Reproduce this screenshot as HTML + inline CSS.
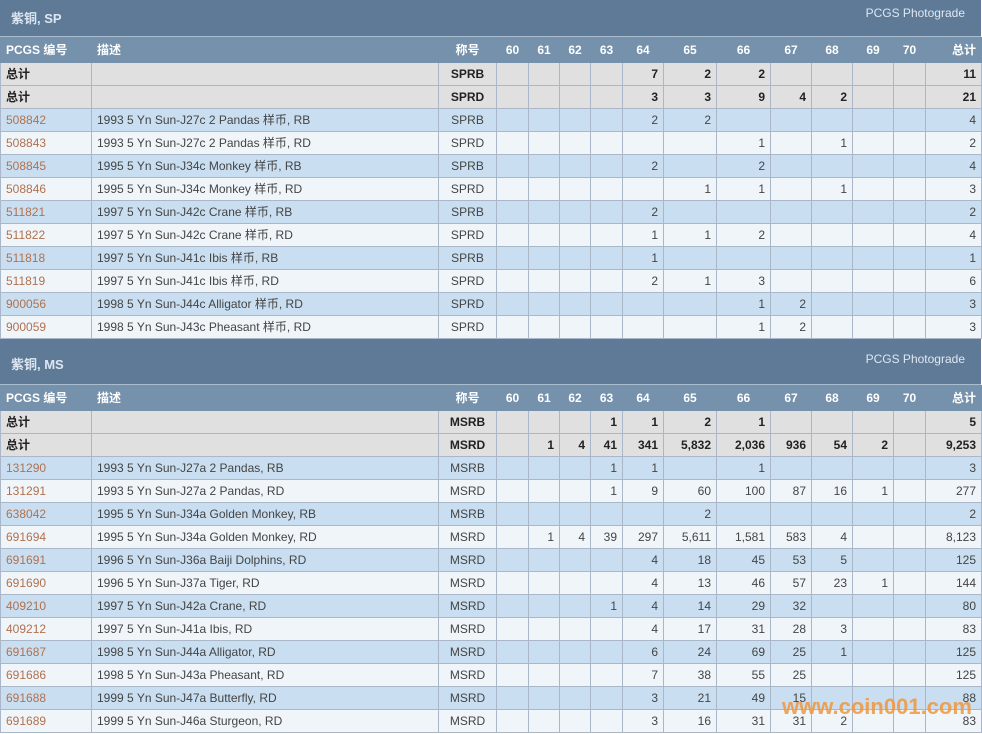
<!DOCTYPE html>
<html><head><meta charset="utf-8"><style>
body{margin:0;background:#fff;width:982px;height:734px;overflow:hidden;font-family:"Liberation Sans","Noto Sans CJK SC",sans-serif;font-size:12px;color:#444}
.t{height:37px;background:#5f7a96;color:#e8eef5;position:relative;box-sizing:border-box;border-bottom:1px solid #a9bdd0;width:981px}
.t b{position:absolute;left:11px;top:8px;font-size:13px;color:#dde7f2}
.t span{position:absolute;right:16px;top:6px;font-size:12px;color:#dde7f2}
table{border-collapse:collapse;table-layout:fixed;width:981px}
td{height:23px;border:1px solid #a9b7c8;padding:0 5px;text-align:right;white-space:nowrap;overflow:hidden;box-sizing:border-box;line-height:14px}
td:nth-child(1),td:nth-child(2){text-align:left}
td:nth-child(3){text-align:center}
tr.h td{background:#7591ab;color:#fff;font-weight:bold;height:25px;border-color:#7591ab}
tr.h td:nth-child(3),tr.h td:nth-child(n+4){text-align:center}
tr.h td:last-child{text-align:right}
tr.s td{background:#e0e0e0;font-weight:bold;color:#222}
tr.b td{background:#c9dff1}
tr.w td{background:#f0f5fa}
td a{color:#b0714e;text-decoration:none}
.wm{position:absolute;left:782px;top:694px;font:bold 22px "Liberation Sans",sans-serif;color:rgba(240,150,60,0.85)}
</style></head><body>
<div class="t"><b>紫铜, SP</b><span>PCGS Photograde</span></div>
<table>
<colgroup><col style="width:91px"><col style="width:347px"><col style="width:58px"><col style="width:32px"><col style="width:31px"><col style="width:31px"><col style="width:32px"><col style="width:41px"><col style="width:53px"><col style="width:54px"><col style="width:41px"><col style="width:41px"><col style="width:41px"><col style="width:32px"><col style="width:56px"></colgroup>
<tr class="h"><td>PCGS 编号</td><td>描述</td><td>称号</td><td>60</td><td>61</td><td>62</td><td>63</td><td>64</td><td>65</td><td>66</td><td>67</td><td>68</td><td>69</td><td>70</td><td>总计</td></tr>
<tr class="s"><td>总计</td><td></td><td>SPRB</td><td></td><td></td><td></td><td></td><td>7</td><td>2</td><td>2</td><td></td><td></td><td></td><td></td><td>11</td></tr>
<tr class="s"><td>总计</td><td></td><td>SPRD</td><td></td><td></td><td></td><td></td><td>3</td><td>3</td><td>9</td><td>4</td><td>2</td><td></td><td></td><td>21</td></tr>
<tr class="b"><td><a>508842</a></td><td>1993 5 Yn Sun-J27c 2 Pandas 样币, RB</td><td>SPRB</td><td></td><td></td><td></td><td></td><td>2</td><td>2</td><td></td><td></td><td></td><td></td><td></td><td>4</td></tr>
<tr class="w"><td><a>508843</a></td><td>1993 5 Yn Sun-J27c 2 Pandas 样币, RD</td><td>SPRD</td><td></td><td></td><td></td><td></td><td></td><td></td><td>1</td><td></td><td>1</td><td></td><td></td><td>2</td></tr>
<tr class="b"><td><a>508845</a></td><td>1995 5 Yn Sun-J34c Monkey 样币, RB</td><td>SPRB</td><td></td><td></td><td></td><td></td><td>2</td><td></td><td>2</td><td></td><td></td><td></td><td></td><td>4</td></tr>
<tr class="w"><td><a>508846</a></td><td>1995 5 Yn Sun-J34c Monkey 样币, RD</td><td>SPRD</td><td></td><td></td><td></td><td></td><td></td><td>1</td><td>1</td><td></td><td>1</td><td></td><td></td><td>3</td></tr>
<tr class="b"><td><a>511821</a></td><td>1997 5 Yn Sun-J42c Crane 样币, RB</td><td>SPRB</td><td></td><td></td><td></td><td></td><td>2</td><td></td><td></td><td></td><td></td><td></td><td></td><td>2</td></tr>
<tr class="w"><td><a>511822</a></td><td>1997 5 Yn Sun-J42c Crane 样币, RD</td><td>SPRD</td><td></td><td></td><td></td><td></td><td>1</td><td>1</td><td>2</td><td></td><td></td><td></td><td></td><td>4</td></tr>
<tr class="b"><td><a>511818</a></td><td>1997 5 Yn Sun-J41c Ibis 样币, RB</td><td>SPRB</td><td></td><td></td><td></td><td></td><td>1</td><td></td><td></td><td></td><td></td><td></td><td></td><td>1</td></tr>
<tr class="w"><td><a>511819</a></td><td>1997 5 Yn Sun-J41c Ibis 样币, RD</td><td>SPRD</td><td></td><td></td><td></td><td></td><td>2</td><td>1</td><td>3</td><td></td><td></td><td></td><td></td><td>6</td></tr>
<tr class="b"><td><a>900056</a></td><td>1998 5 Yn Sun-J44c Alligator 样币, RD</td><td>SPRD</td><td></td><td></td><td></td><td></td><td></td><td></td><td>1</td><td>2</td><td></td><td></td><td></td><td>3</td></tr>
<tr class="w"><td><a>900059</a></td><td>1998 5 Yn Sun-J43c Pheasant 样币, RD</td><td>SPRD</td><td></td><td></td><td></td><td></td><td></td><td></td><td>1</td><td>2</td><td></td><td></td><td></td><td>3</td></tr>
</table>
<div class="t" style="height:46px"><b style="top:15px">紫铜, MS</b><span style="top:13px">PCGS Photograde</span></div>
<table>
<colgroup><col style="width:91px"><col style="width:347px"><col style="width:58px"><col style="width:32px"><col style="width:31px"><col style="width:31px"><col style="width:32px"><col style="width:41px"><col style="width:53px"><col style="width:54px"><col style="width:41px"><col style="width:41px"><col style="width:41px"><col style="width:32px"><col style="width:56px"></colgroup>
<tr class="h"><td style="height:24px">PCGS 编号</td><td>描述</td><td>称号</td><td>60</td><td>61</td><td>62</td><td>63</td><td>64</td><td>65</td><td>66</td><td>67</td><td>68</td><td>69</td><td>70</td><td>总计</td></tr>
<tr class="s"><td>总计</td><td></td><td>MSRB</td><td></td><td></td><td></td><td>1</td><td>1</td><td>2</td><td>1</td><td></td><td></td><td></td><td></td><td>5</td></tr>
<tr class="s"><td>总计</td><td></td><td>MSRD</td><td></td><td>1</td><td>4</td><td>41</td><td>341</td><td>5,832</td><td>2,036</td><td>936</td><td>54</td><td>2</td><td></td><td>9,253</td></tr>
<tr class="b"><td><a>131290</a></td><td>1993 5 Yn Sun-J27a 2 Pandas, RB</td><td>MSRB</td><td></td><td></td><td></td><td>1</td><td>1</td><td></td><td>1</td><td></td><td></td><td></td><td></td><td>3</td></tr>
<tr class="w"><td><a>131291</a></td><td>1993 5 Yn Sun-J27a 2 Pandas, RD</td><td>MSRD</td><td></td><td></td><td></td><td>1</td><td>9</td><td>60</td><td>100</td><td>87</td><td>16</td><td>1</td><td></td><td>277</td></tr>
<tr class="b"><td><a>638042</a></td><td>1995 5 Yn Sun-J34a Golden Monkey, RB</td><td>MSRB</td><td></td><td></td><td></td><td></td><td></td><td>2</td><td></td><td></td><td></td><td></td><td></td><td>2</td></tr>
<tr class="w"><td><a>691694</a></td><td>1995 5 Yn Sun-J34a Golden Monkey, RD</td><td>MSRD</td><td></td><td>1</td><td>4</td><td>39</td><td>297</td><td>5,611</td><td>1,581</td><td>583</td><td>4</td><td></td><td></td><td>8,123</td></tr>
<tr class="b"><td><a>691691</a></td><td>1996 5 Yn Sun-J36a Baiji Dolphins, RD</td><td>MSRD</td><td></td><td></td><td></td><td></td><td>4</td><td>18</td><td>45</td><td>53</td><td>5</td><td></td><td></td><td>125</td></tr>
<tr class="w"><td><a>691690</a></td><td>1996 5 Yn Sun-J37a Tiger, RD</td><td>MSRD</td><td></td><td></td><td></td><td></td><td>4</td><td>13</td><td>46</td><td>57</td><td>23</td><td>1</td><td></td><td>144</td></tr>
<tr class="b"><td><a>409210</a></td><td>1997 5 Yn Sun-J42a Crane, RD</td><td>MSRD</td><td></td><td></td><td></td><td>1</td><td>4</td><td>14</td><td>29</td><td>32</td><td></td><td></td><td></td><td>80</td></tr>
<tr class="w"><td><a>409212</a></td><td>1997 5 Yn Sun-J41a Ibis, RD</td><td>MSRD</td><td></td><td></td><td></td><td></td><td>4</td><td>17</td><td>31</td><td>28</td><td>3</td><td></td><td></td><td>83</td></tr>
<tr class="b"><td><a>691687</a></td><td>1998 5 Yn Sun-J44a Alligator, RD</td><td>MSRD</td><td></td><td></td><td></td><td></td><td>6</td><td>24</td><td>69</td><td>25</td><td>1</td><td></td><td></td><td>125</td></tr>
<tr class="w"><td><a>691686</a></td><td>1998 5 Yn Sun-J43a Pheasant, RD</td><td>MSRD</td><td></td><td></td><td></td><td></td><td>7</td><td>38</td><td>55</td><td>25</td><td></td><td></td><td></td><td>125</td></tr>
<tr class="b"><td><a>691688</a></td><td>1999 5 Yn Sun-J47a Butterfly, RD</td><td>MSRD</td><td></td><td></td><td></td><td></td><td>3</td><td>21</td><td>49</td><td>15</td><td></td><td></td><td></td><td>88</td></tr>
<tr class="w"><td><a>691689</a></td><td>1999 5 Yn Sun-J46a Sturgeon, RD</td><td>MSRD</td><td></td><td></td><td></td><td></td><td>3</td><td>16</td><td>31</td><td>31</td><td>2</td><td></td><td></td><td>83</td></tr>
</table>
<div class="wm">www.coin001.com</div>
</body></html>
